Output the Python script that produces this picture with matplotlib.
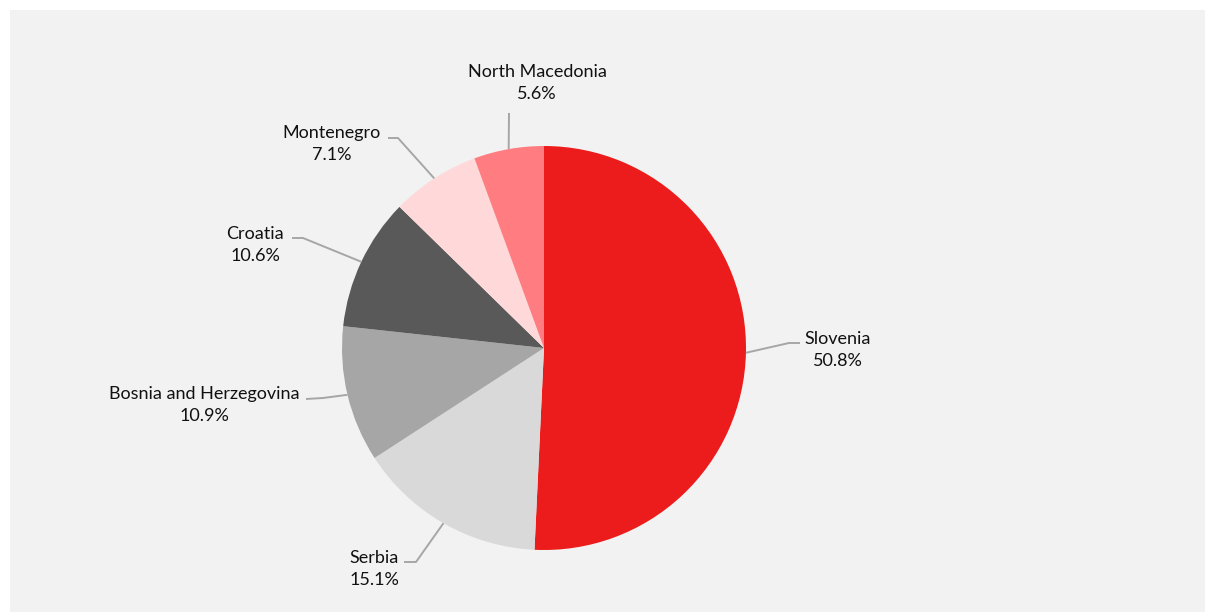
import matplotlib.pyplot as plt
from matplotlib.patches import Rectangle
import numpy as np

plt.rcParams['font.family'] = ['Lato', 'DejaVu Sans']

countries = ["Slovenia", "Serbia", "Bosnia and Herzegovina", "Croatia",
             "Montenegro", "North Macedonia"]
shares = [50.8, 15.1, 10.9, 10.6, 7.1, 5.6]
colors = ["#ED1C1C", "#D9D9D9", "#A6A6A6", "#595959", "#FFD9D9", "#FF7C80"]

# label anchor (text centre) and elbow of each leader line, in pixel-like units
label_xy = [(838, 350), (374, 569), (204, 405), (255, 245), (332, 144), (537, 83)]
elbow_xy = [(789, 343), (416, 562), (323, 398), (303, 238), (398, 138), (509, 113)]
tail_xy = [(800, 343), (404, 562), (306, 399), (292, 238), (388, 138), (509, 113)]

W, H = 1206, 612
fig = plt.figure(figsize=(W / 100, H / 100), dpi=100)
fig.patch.set_facecolor("white")

ax = fig.add_axes([0, 0, 1, 1])
ax.set_facecolor("white")

cx, cy, r = 544, 348, 202
# y axis runs downward, so draw counter-clockwise to get a clockwise pie
wedges, _ = ax.pie(shares, colors=colors, startangle=-90, counterclock=True,
                   center=(cx, cy), radius=r, frame=True,
                   wedgeprops=dict(linewidth=0))
ax.add_patch(Rectangle((10, 10), W - 11, H - 10, facecolor="#F2F2F2",
                       edgecolor="none", zorder=-5))
ax.set_xlim(0, W)
ax.set_ylim(H, 0)
ax.set_aspect("equal")
ax.axis("off")

for w, name, val, (lx, ly), (ex, ey), (tx, ty) in zip(
        wedges, countries, shares, label_xy, elbow_xy, tail_xy):
    mid = np.deg2rad((w.theta1 + w.theta2) / 2)
    px, py = cx + r * np.cos(mid), cy + r * np.sin(mid)
    ax.plot([px, ex, tx], [py, ey, ty], color="#A6A6A6", lw=1.4,
            solid_capstyle="butt", zorder=1)
    ax.text(lx, ly, f"{name}\n{val:.1f}%", ha="center", va="center",
            fontsize=13, color="#111111", linespacing=1.5)

fig.savefig("out.png", dpi=100)
